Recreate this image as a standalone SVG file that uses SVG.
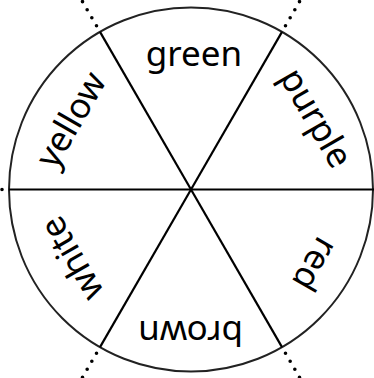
<svg xmlns="http://www.w3.org/2000/svg" width="374" height="378" viewBox="0 0 374 378">
<style>
.spoke{stroke:#000;stroke-width:2.2;fill:none}
.dots{stroke:#000;stroke-width:3.6;stroke-linecap:round;stroke-dasharray:0 9.3;fill:none}
.lbl{font-family:"Noto Sans","Open Sans",sans-serif;font-size:35px;fill:#000;text-anchor:middle}
</style>
<rect width="374" height="378" fill="#fff"/>
<g id="connectors">
<circle cx="191" cy="189.5" r="182" fill="none" stroke="#222" stroke-width="2"/>
<line class="spoke" x1="191" y1="189.5" x2="100" y2="31.9"/>
<line class="spoke" x1="191" y1="189.5" x2="282" y2="31.9"/>
<line class="spoke" x1="191" y1="189.5" x2="9" y2="189.5"/>
<line class="spoke" x1="191" y1="189.5" x2="374" y2="189.5"/>
<line class="spoke" x1="191" y1="189.5" x2="100" y2="347.1"/>
<line class="spoke" x1="191" y1="189.5" x2="282" y2="347.1"/>
<path class="dots" d="M96.5,25.8 L56,-44"/>
<path class="dots" d="M285.5,25.8 L326,-44"/>
<path class="dots" d="M2,189.5 L-60,189.5"/>
<path class="dots" d="M380,189.5 L440,189.5"/>
<path class="dots" d="M96.5,353.2 L56,423"/>
<path class="dots" d="M285.5,353.2 L326,423"/>
</g>
<g id="green"><text class="lbl" transform="translate(194,56)" y="9.5">green</text></g>
<g id="purple"><text class="lbl" transform="translate(314,119) rotate(60)" y="9.5">purple</text></g>
<g id="red"><text class="lbl" transform="translate(313,263) rotate(120)" y="9.5">red</text></g>
<g id="brown"><text class="lbl" transform="translate(190.5,330) rotate(180)" y="9.5">brown</text></g>
<g id="white"><text class="lbl" transform="translate(74,257.5) rotate(240)" y="9.5">white</text></g>
<g id="yellow"><text class="lbl" transform="translate(73,121) rotate(-60)" y="9.5">yellow</text></g>
</svg>
